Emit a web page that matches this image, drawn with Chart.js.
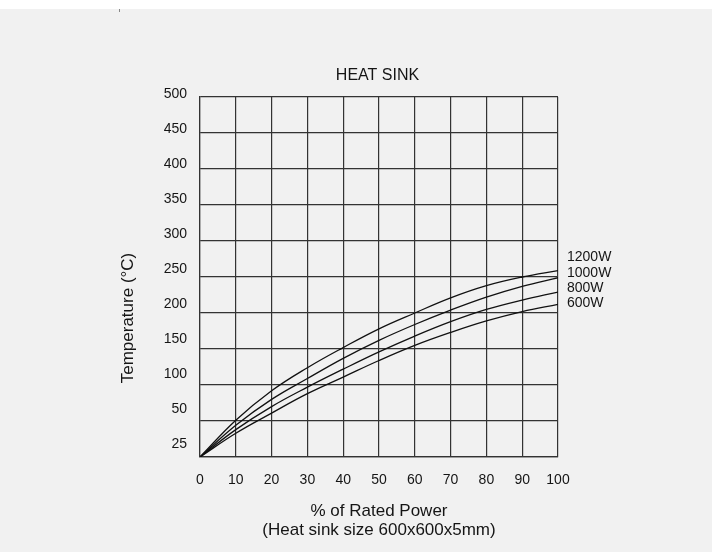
<!DOCTYPE html>
<html><head><meta charset="utf-8">
<script src="https://cdn.jsdelivr.net/npm/chart.js@4.4.0/dist/chart.umd.min.js"></script>
<style>
html,body{margin:0;padding:0;background:#fff;}
#bg{position:absolute;left:0;top:9px;width:712px;height:543px;background:#f1f1f1;}
#mark{position:absolute;left:119px;top:9px;width:1px;height:3px;background:#888;}
#wrap{position:absolute;left:0;top:0;width:712px;height:552px;}
</style></head><body>
<div id="bg"></div><div id="mark"></div>
<div id="wrap"><canvas id="c" width="712" height="552"></canvas></div>
<script>
const powerPct  = [0, 10, 20, 30, 40, 50, 60, 70, 80, 90, 100];
const temp1200W = [0, 51, 92, 124, 152, 178, 200, 221, 238, 250, 259];
const temp1000W = [0, 44, 80, 109, 137, 162, 184, 204, 222, 237, 249];
const temp800W  = [0, 38, 70, 97, 122, 146, 168, 188, 205, 218, 229];
const temp600W  = [0, 33, 61, 88, 111, 134, 155, 173, 189, 202, 212];
const seriesNames = ['1200W', '1000W', '800W', '600W'];
const yTickValues = [0, 50, 100, 150, 200, 250, 300, 350, 400, 450, 500];
const yTickLabels = ['25', '50', '100', '150', '200', '250', '300', '350', '400', '450', '500'];
const chartTitle = 'HEAT SINK';
const yTitle = 'Temperature (°C)';
const xTitle = ['% of Rated Power', '(Heat sink size 600x600x5mm)'];

const FONT = '"Liberation Sans", Arial, Helvetica, sans-serif';
const seriesValues = [temp1200W, temp1000W, temp800W, temp600W];
const toPoints = arr => powerPct.map((x, i) => ({x: x, y: arr[i]}));

const extras = {
  id: 'extras',
  afterDraw(chart) {
    const ctx = chart.ctx, a = chart.chartArea;
    ctx.save();
    ctx.fillStyle = '#151515';
    ctx.textBaseline = 'middle';
    ctx.textAlign = 'center';
    ctx.font = '16px ' + FONT;
    ctx.fillText(chartTitle, (a.left + a.right) / 2 - 1.5, 76);
    // series labels at line ends
    ctx.font = '14px ' + FONT;
    ctx.textAlign = 'left';
    let prev = Infinity;
    for (let i = seriesNames.length - 1; i >= 0; i--) {
      const meta = chart.getDatasetMeta(i);
      const endY = meta.data[meta.data.length - 1].y;
      const y = Math.min(endY - 1, prev - 15.3);
      ctx.fillText(seriesNames[i], a.right + 9, y);
      prev = y;
    }
    // y axis title
    ctx.font = '17px ' + FONT;
    ctx.textAlign = 'center';
    ctx.translate(128, 318);
    ctx.rotate(-Math.PI / 2);
    ctx.fillText(yTitle, 0, 0);
    ctx.restore();
  }
};

new Chart(document.getElementById('c'), {
  type: 'line',
  data: {
    datasets: seriesNames.map((name, i) => ({
      label: name,
      data: toPoints(seriesValues[i]),
      borderColor: '#111',
      borderWidth: 1.3,
      pointRadius: 0,
      fill: false,
      tension: 0.4
    }))
  },
  options: {
    responsive: false,
    animation: false,
    layout: {padding: {top: 97, right: 154, left: 0, bottom: 0}},
    plugins: {legend: {display: false}, tooltip: {enabled: false}, title: {display: false}},
    scales: {
      x: {
        type: 'linear', min: 0, max: 100,
        ticks: {stepSize: 10, color: '#151515', font: {family: FONT, size: 14}, padding: 15},
        grid: {color: '#333', lineWidth: 1.2, drawTicks: false},
        border: {display: true, color: '#333', width: 1.2},
        title: {display: true, text: xTitle, color: '#151515',
                font: {family: FONT, size: 17, lineHeight: 1.12}, padding: {top: 0, bottom: 12.4}},
        afterFit(s) { s.height = 95; }
      },
      y: {
        type: 'linear', position: 'left', min: 0, max: 500,
        ticks: {stepSize: 50, display: false},
        grid: {color: '#333', lineWidth: 1.2, drawTicks: false},
        border: {display: true, color: '#333', width: 1.2},
        afterFit(s) { s.width = 0; }
      },
      yl: {
        type: 'linear', position: 'left', min: -18.57, max: 495.71,
        grid: {display: false, drawTicks: false},
        border: {display: false},
        ticks: {color: '#151515', font: {family: FONT, size: 14}, padding: 13,
                callback: (v) => { const i = yTickValues.indexOf(v); return i >= 0 ? yTickLabels[i] : ''; }},
        afterBuildTicks(s) { s.ticks = yTickValues.map(v => ({value: v})); },
        afterFit(s) { s.width = 200; }
      }
    }
  },
  plugins: [extras]
});
</script>
</body></html>
